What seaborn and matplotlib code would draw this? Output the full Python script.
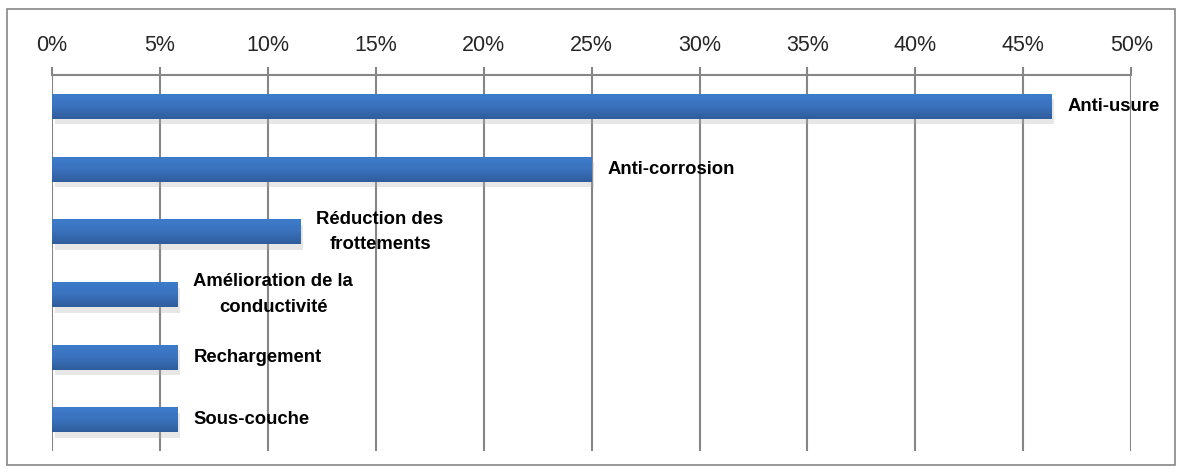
import numpy as np
import pandas as pd
import matplotlib.pyplot as plt
import matplotlib.patheffects as pe
from matplotlib.patches import Rectangle
from matplotlib.colors import LinearSegmentedColormap
import seaborn as sns

# Données
categories = ["Anti-usure", "Anti-corrosion", "Réduction des\nfrottements",
              "Amélioration de la\nconductivité", "Rechargement", "Sous-couche"]
valeurs = [46.3, 25.0, 11.5, 5.8, 5.8, 5.8]
graduations = [0, 5, 10, 15, 20, 25, 30, 35, 40, 45, 50]

df = pd.DataFrame({"Fonction": categories, "Part": valeurs})

sns.set_style("white")
plt.rcParams["font.family"] = ["Liberation Sans", "DejaVu Sans"]

fig = plt.figure(figsize=(11.82, 4.75), dpi=100)
ax = fig.add_axes([0.044, 0.05, 0.913, 0.792])

gris = "#868686"
ax.set_axisbelow(True)
for g in graduations:
    ax.axvline(g, color=gris, lw=1.5, zorder=0)

sns.barplot(data=df, x="Part", y="Fonction", orient="h", color="#3A72BE",
            width=0.4, saturation=1, ax=ax, zorder=3, linewidth=0)

# dégradé vertical sur les barres
degrade = LinearSegmentedColormap.from_list("bleu", ["#3E7DCC", "#3A72BE", "#2F5D9C"])
grad = np.linspace(0, 1, 64).reshape(-1, 1)
for p in ax.patches:
    p.set_path_effects([pe.SimplePatchShadow(offset=(2, -4), shadow_rgbFace="#b0b0b0", alpha=0.3),
                        pe.Normal()])
    x0, y0 = p.get_x(), p.get_y()
    w, h = p.get_width(), p.get_height()
    im = ax.imshow(grad, cmap=degrade, aspect="auto", extent=(x0, x0 + w, y0 + h, y0),
                   zorder=4, interpolation="bilinear")
    im.set_clip_path(p)

for i, (txt, v) in enumerate(zip(categories, valeurs)):
    ax.text(v + 0.75, i, txt, ha="left", va="center", multialignment="center",
            fontsize=13.3, fontweight="bold", color="black", linespacing=1.65)

ax.set_xlim(0, 50)
ax.set_ylim(5.5, -0.5)
ax.xaxis.tick_top()
ax.set_xticks(graduations)
ax.set_xticklabels([f"{g}%" for g in graduations], fontsize=15.5)
ax.tick_params(axis="x", direction="out", length=6, width=1.5, color=gris, pad=8)
ax.tick_params(axis="y", left=False, labelleft=False)
ax.set_xlabel("")
ax.set_ylabel("")
for s in ["left", "right", "bottom"]:
    ax.spines[s].set_visible(False)
ax.spines["top"].set_color(gris)
ax.spines["top"].set_linewidth(1.5)

fig.patches.append(Rectangle((7 / 1182, 10 / 475), 1168 / 1182, 456 / 475,
                             transform=fig.transFigure, fill=False,
                             edgecolor=gris, lw=1.2))

fig.savefig("out.png", dpi=100)
